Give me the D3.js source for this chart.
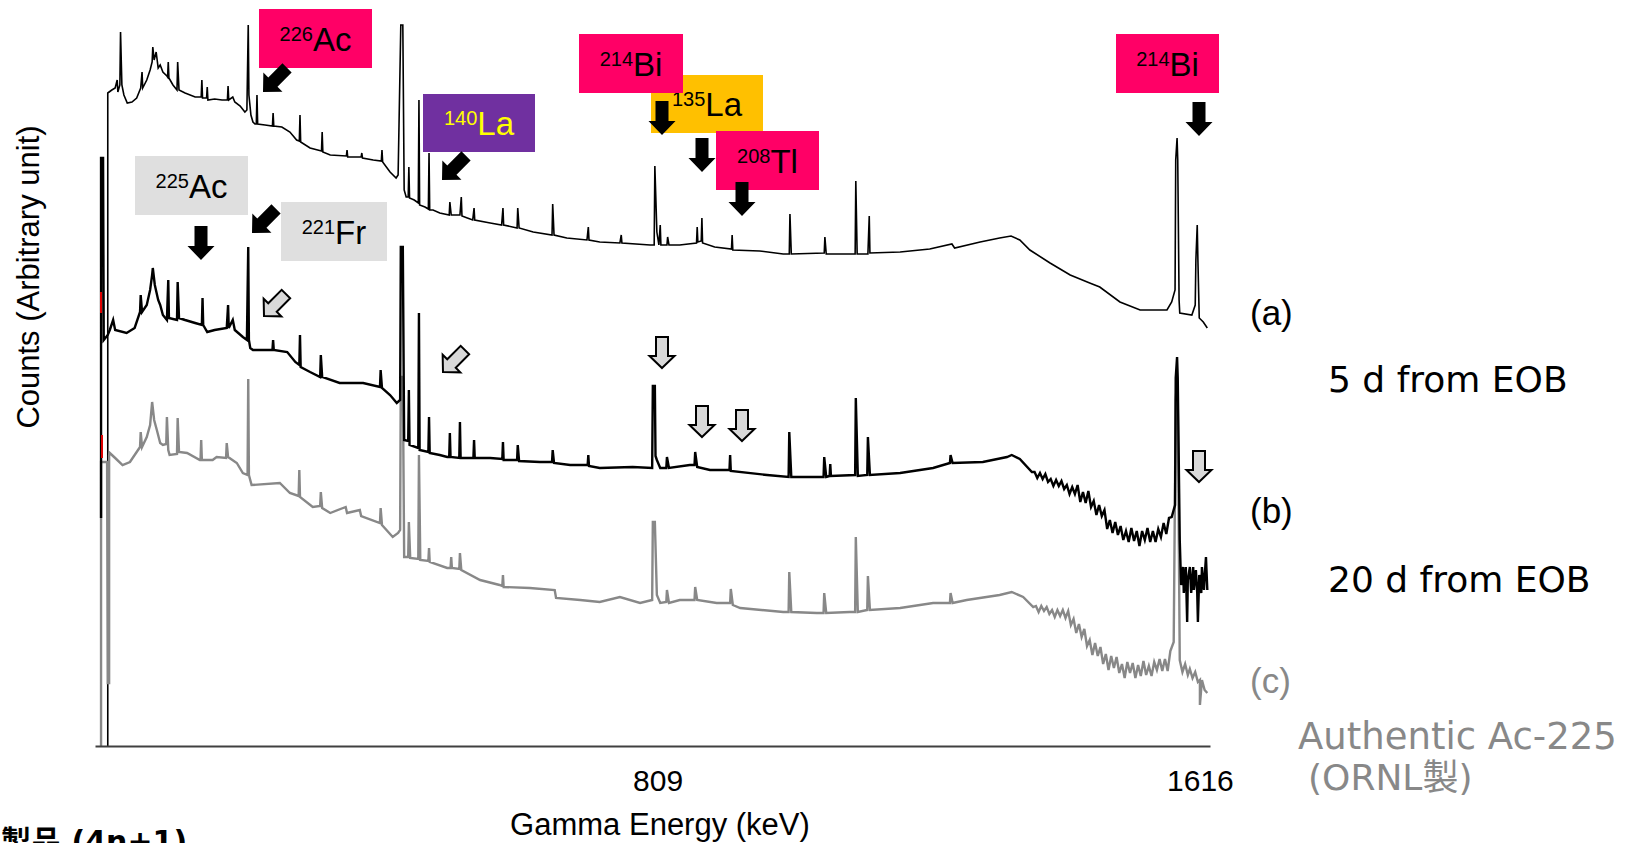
<!DOCTYPE html>
<html>
<head>
<meta charset="utf-8">
<script src="https://cdn.jsdelivr.net/npm/d3@7"></script>
<style>
  body { margin: 0; background: #fff; }
  svg { display: block; }
</style>
</head>
<body>
<svg id="chart" width="1626" height="843"></svg>
<script>
// ---------------- DATA (energy in axis units, counts in arbitrary units) ----------------
const xTickValues = [809, 1616];

// (a) 5 d from EOB
const traceA = [
  [-9,0],[-9,653],[-3,656],[2,658],[5,666],[6,654],[9,661],[10,714],[12,661],[15,651],[20,643],[27,644],[34,648],
  [40,658],[42,674],[43,658],[49,666],[54,676],[57,684],[58,699],[60,686],[63,694],[66,678],[69,681],[73,674],
  [79,670],[80,669],[81,684],[82,668],[88,661],[94,656],[95,684],[97,656],[106,653],[121,649],[130,649],[131,666],
  [132,648],[138,648],[139,659],[140,646],[150,647],[161,646],[169,646],[170,660],[171,646],[177,649],[180,644],
  [188,640],[195,634],[198,636],[200,721],[201,651],[204,631],[207,624],[210,622],[212,622],[213,651],[214,622],
  [225,621],[236,620],[237,633],[238,620],[250,619],[262,614],[272,606],[276,605],[277,631],[278,604],[292,598],
  [309,595],[310,614],[311,594],[322,591],[346,590],[347,596],[348,589],[359,589],[368,589],[369,593],[370,588],
  [386,586],[398,585],[399,596],[400,584],[411,574],[420,568],[423,571],[427,721],[430,721],[432,556],[435,549],
  [438,549],[439,579],[440,548],[447,546],[453,543],[454,646],[455,541],[463,539],[468,537],[469,593],[470,536],
  [475,536],[485,533],[499,531],[500,544],[502,531],[515,531],[517,549],[518,530],[526,528],[534,526],[536,538],
  [537,526],[560,523],[577,521],[579,538],[580,521],[600,518],[601,538],[603,518],[624,514],[652,511],[653,542],
  [655,511],[674,508],[704,506],[706,519],[707,506],[723,504],[753,503],[755,511],[756,503],[798,501],[804,501],
  [805,580],[808,514],[811,501],[813,521],[814,501],[823,501],[824,509],[826,501],[842,501],[867,503],[868,519],
  [869,504],[874,505],[875,528],[876,503],[894,499],[919,497],[920,511],[921,496],[961,495],[996,492],[1005,492],
  [1006,532],[1008,492],[1057,493],[1058,509],[1060,492],[1103,492],[1104,565],[1106,492],[1122,492],[1124,530],
  [1125,493],[1170,494],[1214,497],[1247,502],[1251,498],[1289,504],[1318,508],[1335,510],[1348,506],[1363,496],
  [1393,483],[1423,471],[1452,463],[1467,459],[1497,444],[1527,436],[1567,436],[1574,444],[1579,456],[1580,586],
  [1582,608],[1583,586],[1585,446],[1586,433],[1604,431],[1609,441],[1610,486],[1612,521],[1613,486],[1615,428],
  [1621,424],[1627,418]
];

// (b) 20 d from EOB
const traceB = [
  [-19,228],[-19,588],[-16,588],[-15,406],[-9,411],[-6,416],[-1,426],[2,416],[19,413],[31,418],[39,434],[40,451],
  [42,434],[49,441],[54,456],[57,471],[58,478],[61,461],[66,446],[69,441],[73,431],[79,426],[81,466],[82,428],
  [94,426],[95,464],[97,428],[106,426],[121,423],[131,421],[132,448],[133,421],[139,414],[150,416],[168,418],
  [170,441],[171,418],[177,426],[180,416],[192,409],[198,406],[200,499],[201,406],[203,398],[207,396],[236,396],
  [237,406],[238,396],[258,394],[270,384],[276,381],[277,411],[278,379],[292,374],[307,369],[308,391],[310,369],
  [336,363],[371,363],[396,359],[397,376],[399,358],[411,351],[421,343],[426,346],[427,499],[430,499],[432,306],
  [438,305],[439,356],[440,301],[453,298],[454,433],[455,296],[468,294],[469,329],[470,293],[485,291],[496,289],
  [499,289],[500,313],[501,289],[514,288],[515,324],[516,288],[535,288],[536,306],[537,288],[560,288],[578,287],
  [579,304],[580,286],[600,286],[601,301],[603,285],[634,284],[652,284],[653,296],[655,283],[679,281],[705,281],
  [706,291],[707,280],[723,278],[772,279],[801,278],[802,360],[805,360],[806,290],[808,286],[813,278],[822,278],
  [823,289],[826,278],[857,281],[864,281],[865,294],[868,279],[887,276],[916,276],[917,291],[918,275],[972,271],
  [1004,269],[1005,314],[1008,269],[1046,269],[1056,269],[1057,289],[1060,269],[1065,270],[1066,282],[1067,270],
  [1103,271],[1104,348],[1107,270],[1121,271],[1122,309],[1125,271],[1170,273],[1219,278],[1244,283],[1245,291],
  [1248,283],[1293,284],[1329,289],[1336,291],[1348,287],[1366,274],
  [1370,274],[1374,268],[1378,273],[1382,267],[1386,272],[1390,264],[1394,267],[1398,260],[1402,266],[1406,260],
  [1410,265],[1414,257],[1418,261],[1422,252],[1426,259],[1430,252],[1434,261],[1438,244],[1442,254],[1446,243],
  [1450,255],[1454,239],[1458,245],[1462,231],[1466,241],[1470,230],[1474,236],[1478,217],[1482,226],[1486,213],
  [1490,224],[1494,211],[1498,220],[1502,206],[1506,215],[1510,204],[1514,218],[1518,205],[1522,215],[1526,200],
  [1530,215],[1534,206],[1538,218],[1542,204],[1546,215],[1550,204],[1554,217],[1558,209],[1562,223],[1566,212],
  [1570,228],[1574,229],[1579,241],[1580,368],[1582,389],[1583,368],[1586,206],[1588,161],[1591,179],[1592,153],
  [1595,179],[1597,124],[1598,166],[1601,179],[1603,153],[1606,179],[1607,156],[1610,176],[1612,153],[1613,124],
  [1615,171],[1618,153],[1619,179],[1622,156],[1624,179],[1625,189],[1627,156]
];

// (c) Authentic Ac-225 (ORNL)
const traceC = [
  [-19,0],[-19,284],[-10,284],[-9,63],[-7,63],[-7,291],[-6,293],[2,288],[13,281],[24,284],[31,291],[39,299],
  [40,314],[42,299],[49,309],[54,321],[57,344],[60,326],[64,316],[69,303],[73,301],[78,302],[79,329],[81,296],
  [83,291],[94,292],[95,328],[97,294],[109,293],[128,286],[129,286],[130,306],[131,286],[147,286],[153,289],
  [167,288],[168,303],[170,289],[183,283],[192,273],[199,271],[200,367],[201,271],[205,261],[247,263],[262,253],
  [275,250],[276,276],[277,249],[296,239],[307,240],[308,254],[310,238],[322,233],[345,239],[347,233],[366,236],
  [368,230],[396,223],[397,238],[399,221],[415,209],[423,213],[426,216],[427,369],[430,369],[432,189],[438,189],
  [439,224],[441,188],[453,187],[454,291],[456,186],[468,185],[469,198],[470,184],[496,178],[501,178],[502,189],
  [503,178],[514,177],[515,193],[517,176],[545,166],[574,161],[578,160],[579,171],[580,159],[619,158],[656,156],
  [658,148],[694,146],[723,144],[753,149],[783,143],[801,146],[802,224],[805,224],[808,151],[813,143],[822,144],
  [823,156],[826,143],[842,146],[864,146],[865,159],[868,146],[897,143],[917,143],[918,157],[921,141],[932,138],
  [996,134],[1004,134],[1005,174],[1008,134],[1046,133],[1056,133],[1057,153],[1060,133],[1095,134],[1103,134],
  [1104,209],[1107,134],[1121,136],[1122,170],[1125,136],[1170,138],[1219,143],[1244,143],[1245,153],[1248,143],
  [1269,146],[1318,151],[1336,154],[1353,149],[1368,139],
  [1372,140],[1376,134],[1380,140],[1384,135],[1388,139],[1392,132],[1396,136],[1400,129],[1404,136],[1408,130],
  [1412,136],[1416,128],[1420,135],[1424,121],[1428,127],[1432,113],[1436,122],[1440,109],[1444,117],[1448,100],
  [1452,106],[1456,91],[1460,103],[1464,90],[1468,99],[1472,82],[1476,92],[1480,76],[1484,90],[1488,78],
  [1492,89],[1496,73],[1500,82],[1504,68],[1508,84],[1512,73],[1516,83],[1520,68],[1524,81],[1528,70],
  [1532,85],[1536,71],[1540,80],[1544,70],[1548,84],[1552,76],[1556,87],[1560,75],[1564,87],[1568,75],
  [1572,95],[1577,104],[1580,346],[1582,366],[1583,346],[1586,86],[1590,74],[1594,82],[1598,71],[1601,77],
  [1605,68],[1609,74],[1613,64],[1616,66],[1616,41],[1619,66],[1623,56],[1627,53]
];

const seriesTags = ["(a)", "(b)", "(c)"];
const conditionTexts = ["5 d from EOB", "20 d from EOB"];
const authenticTexts = ["Authentic Ac-225", "(ORNL製)"];

const labelMass    = ["226", "140", "225", "221", "135", "214", "208", "214"];
const labelElement = ["Ac",  "La",  "Ac",  "Fr",  "La",  "Bi",  "Tl",  "Bi"];

// ---------------- LAYOUT / STYLE ----------------
const svg = d3.select("#chart");
const SANS = "'Liberation Sans', Arial, Helvetica, sans-serif";
const ROUND = "'DejaVu Sans', 'Noto Sans CJK JP', sans-serif";

const x = d3.scaleLinear().domain([-28, 1631]).range([95, 1210]);
const y = d3.scaleLinear().domain([0, 746]).range([746, 0]);

const line = d3.line().x(d => x(d[0])).y(d => y(d[1]));

// traces
svg.append("path").datum(traceA).attr("d", line)
  .attr("fill", "none").attr("stroke", "#000").attr("stroke-width", 1.6).attr("stroke-linejoin", "miter");
svg.append("path").datum(traceC).attr("d", line)
  .attr("fill", "none").attr("stroke", "#888").attr("stroke-width", 2.4).attr("stroke-linejoin", "miter");
svg.append("path").datum(traceB).attr("d", line)
  .attr("fill", "none").attr("stroke", "#000").attr("stroke-width", 2.4).attr("stroke-linejoin", "miter");

// tiny red marks at the start channel
[[292, 313, 100], [435, 458, 101]].forEach(m => {
  svg.append("rect").attr("x", m[2]).attr("y", m[0]).attr("width", 2).attr("height", m[1] - m[0]).attr("fill", "#e00000");
});

// x axis
const xAxis = d3.axisBottom(x).tickValues(xTickValues).tickFormat(d3.format("d"))
  .tickSize(0).tickSizeOuter(0).tickPadding(24);
const gx = svg.append("g").attr("transform", `translate(0,${y(0)})`).call(xAxis);
gx.select(".domain").attr("stroke", "#404040").attr("stroke-width", 2);
gx.selectAll("text").attr("font-family", SANS).attr("font-size", 30).attr("fill", "#000");

// axis titles
svg.append("text").attr("x", 660).attr("y", 835).attr("text-anchor", "middle")
  .attr("font-family", SANS).attr("font-size", 31).text("Gamma Energy (keV)");
svg.append("text").attr("transform", "translate(39,277) rotate(-90)").attr("text-anchor", "middle")
  .attr("font-family", SANS).attr("font-size", 31).text("Counts (Arbitrary unit)");

// isotope label boxes
const boxes = [
  {b: [259, 9, 372, 68],    fill: "#FF0066", color: "#000"},
  {b: [423, 94, 535, 152],  fill: "#7030A0", color: "#FFFF00"},
  {b: [135, 156, 248, 215], fill: "#DFDFDF", color: "#000"},
  {b: [281, 202, 387, 261], fill: "#DFDFDF", color: "#000"},
  {b: [651, 75, 763, 133],  fill: "#FFC000", color: "#000"},
  {b: [579, 34, 683, 93],   fill: "#FF0066", color: "#000"},
  {b: [716, 131, 819, 190], fill: "#FF0066", color: "#000"},
  {b: [1116, 34, 1219, 93], fill: "#FF0066", color: "#000"}
];
boxes.forEach((bx, i) => {
  const [x0, y0, x1, y1] = bx.b;
  svg.append("rect").attr("x", x0).attr("y", y0).attr("width", x1 - x0).attr("height", y1 - y0).attr("fill", bx.fill);
  const t = svg.append("text").attr("x", (x0 + x1) / 2).attr("y", (y0 + y1) / 2 + 12)
    .attr("text-anchor", "middle").attr("font-family", SANS).attr("fill", bx.color);
  t.append("tspan").attr("font-size", 20).attr("dy", -10).text(labelMass[i]);
  t.append("tspan").attr("font-size", 33).attr("dy", 10).text(labelElement[i]);
});

// arrows
function arrowPath(L, sw, hw, hl) {
  return `M0,0 L${-hl},${-hw / 2} L${-hl},${-sw / 2} L${-L},${-sw / 2} L${-L},${sw / 2} L${-hl},${sw / 2} L${-hl},${hw / 2} Z`;
}
const solidArrows = [
  [263, 92, 135], [442, 180, 135], [252, 233, 135], [201, 260, 90],
  [662, 135, 90], [702, 172, 90], [742, 216, 90], [1199, 136, 90]
];
solidArrows.forEach(a => {
  svg.append("path").attr("d", arrowPath(34, 13, 27, 14))
    .attr("transform", `translate(${a[0]},${a[1]}) rotate(${a[2]})`).attr("fill", "#000");
});
const openArrows = [
  [264, 316, 135], [443, 372, 135], [662, 368, 90], [702, 437, 90], [742, 441, 90], [1199, 482, 90]
];
openArrows.forEach(a => {
  svg.append("path").attr("d", arrowPath(31, 12, 25, 12))
    .attr("transform", `translate(${a[0]},${a[1]}) rotate(${a[2]})`)
    .attr("fill", "#D9D9D9").attr("stroke", "#000").attr("stroke-width", 2).attr("stroke-linejoin", "miter");
});

// series tags
const tagY = [325, 523, 693];
const tagColor = ["#000", "#000", "#888"];
seriesTags.forEach((s, i) => {
  svg.append("text").attr("x", 1250).attr("y", tagY[i]).attr("font-family", SANS)
    .attr("font-size", 35).attr("fill", tagColor[i]).text(s);
});

// condition texts
[392, 592].forEach((yy, i) => {
  svg.append("text").attr("x", 1328).attr("y", yy).attr("font-family", ROUND)
    .attr("font-size", 36).attr("fill", "#000").text(conditionTexts[i]);
});
svg.append("text").attr("x", 1298).attr("y", 749).attr("font-family", ROUND)
  .attr("font-size", 37).attr("fill", "#888").text(authenticTexts[0]);
svg.append("text").attr("x", 1308).attr("y", 790).attr("font-family", ROUND)
  .attr("font-size", 36).attr("fill", "#888").text(authenticTexts[1]);

// caption at bottom-left (cut off by the frame, as in the original)
svg.append("text").attr("x", 1).attr("y", 852).attr("font-family", ROUND)
  .attr("font-size", 30).attr("font-weight", "bold").attr("fill", "#000").text("製品 (4n+1)");
</script>
</body>
</html>
